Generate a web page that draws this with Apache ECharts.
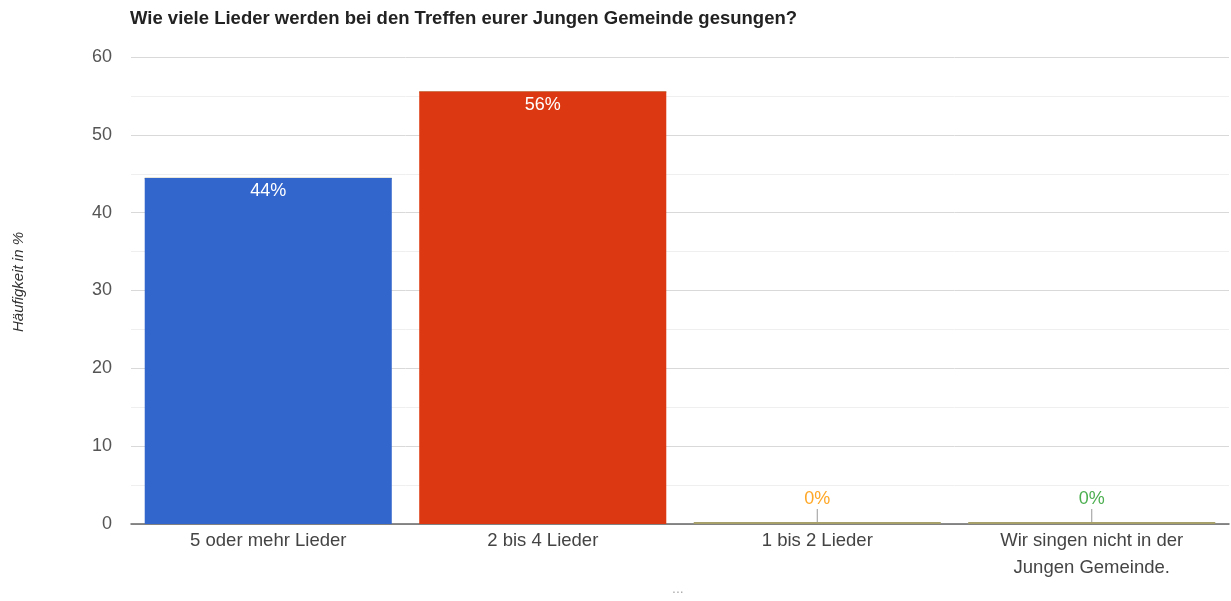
<!DOCTYPE html>
<html><head><meta charset="utf-8">
<script src="https://cdn.jsdelivr.net/npm/echarts@6/dist/echarts.min.js"></script>
<style>html,body{margin:0;padding:0;background:#fff}#c{width:1231px;height:601px}</style>
</head><body><div id="c"></div>
<script>
const titleText = 'Wie viele Lieder werden bei den Treffen eurer Jungen Gemeinde gesungen?';
const yAxisName = 'Häufigkeit in %';
const categories = ['5 oder mehr Lieder', '2 bis 4 Lieder', '1 bis 2 Lieder', 'Wir singen nicht in der\nJungen Gemeinde.'];
const values = [44.44, 55.56, 0, 0];
const colors = ['#3366cc', '#dc3912', '#ff9900', '#109618'];
const labelColors = ['#ffffff', '#ffffff', '#ffa726', '#4caf50'];
const yTicks = [0, 10, 20, 30, 40, 50, 60];

const FONT = '"Liberation Sans", Arial, sans-serif';
const chart = echarts.init(document.getElementById('c'), null, {renderer: 'canvas'});
chart.setOption({
  animation: false,
  textStyle: {fontFamily: FONT},
  title: {text: titleText, left: 125, top: 4,
    textStyle: {fontSize: 18.5, fontWeight: 'bold', color: '#222', fontFamily: FONT}},
  grid: {left: 131, right: 2, top: 57, bottom: 77, containLabel: false, outerBoundsMode: 'none'},
  xAxis: {type: 'category', data: categories,
    axisLine: {lineStyle: {color: '#666', width: 1.5}},
    axisTick: {show: false},
    axisLabel: {color: '#444', fontSize: 18.5, margin: 3, lineHeight: 27, fontFamily: FONT}},
  yAxis: {type: 'value', min: yTicks[0], max: yTicks[yTicks.length - 1], interval: 10,
    axisLine: {show: false}, axisTick: {show: false},
    axisLabel: {color: '#555', fontSize: 18, margin: 19, fontFamily: FONT},
    splitLine: {lineStyle: {color: '#d9d9d9'}},
    minorTick: {show: false, splitNumber: 2},
    minorSplitLine: {show: true, lineStyle: {color: '#efefef'}}},
  series: [{
    type: 'bar', barCategoryGap: '10%', barMinHeight: 2,
    data: values.map((v, i) => ({value: v,
      itemStyle: {color: v === 0 ? '#a8a06a' : colors[i]},
      label: {position: v === 0 ? 'top' : 'insideTop', color: labelColors[i], distance: v === 0 ? 14 : 4}})),
    label: {show: true, fontSize: 18, fontFamily: FONT,
      formatter: p => Math.round(p.value) + '%'}
  }]
});
const g = [];
const p0 = chart.convertToPixel({seriesIndex: 0}, [0, 0]);
const p1 = chart.convertToPixel({seriesIndex: 0}, [1, 0]);
const half = (p1[0] - p0[0]) * 0.45;
values.forEach((v, i) => {
  const top = chart.convertToPixel({seriesIndex: 0}, [i, v]);
  const base = chart.convertToPixel({seriesIndex: 0}, [i, 0]);
  if (v === 0) {
    g.push({type: 'line', shape: {x1: base[0], y1: base[1] - 15, x2: base[0], y2: base[1]},
      style: {stroke: '#999', lineWidth: 1}});
  } else {
    g.push({type: 'line', shape: {x1: top[0] - half, y1: top[1] + 0.5, x2: top[0] + half, y2: top[1] + 0.5},
      style: {stroke: '#a8a06a', lineWidth: 1.5}});
  }
});
g.push({type: 'text', x: 19, y: 282, rotation: Math.PI / 2,
  style: {text: yAxisName, fill: '#333', font: 'italic 15px ' + FONT, align: 'center', verticalAlign: 'middle'}});
g.push({type: 'text', left: 672, top: 582, style: {text: '...', fill: '#aaa', font: '14px ' + FONT}});
chart.setOption({graphic: g});
</script></body></html>
